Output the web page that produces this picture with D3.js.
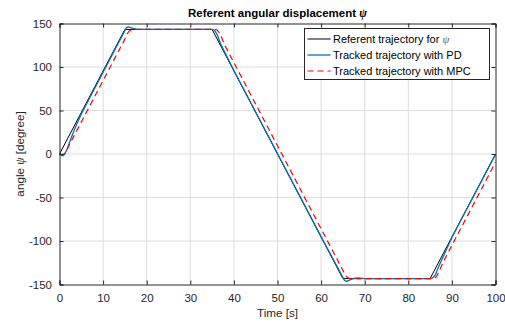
<!DOCTYPE html>
<html>
<head>
<meta charset="utf-8">
<script src="https://cdn.jsdelivr.net/npm/d3@7"></script>
<style>
  html, body { margin: 0; padding: 0; background: #fff; }
  svg { display: block; font-family: "Liberation Sans", Arial, sans-serif; }
  .grid line { stroke: #dcdcdc; stroke-width: 1; }
  .tick text { fill: #262626; font-size: 11.5px; }
</style>
</head>
<body>
<div id="chart"></div>
<script>
// reference trajectory
const refTime = [0, 15, 35, 65, 85, 100];
const refAngle = [0, 143.2, 143.2, -143.2, -143.2, 0];

// PD tracked trajectory
const pdTime = [0, 0.4, 0.8, 1.2, 1.8, 2.5, 3.5, 5, 10, 14.8, 15.3, 15.8, 16.5, 17.5, 20,
  35, 35.5, 36.2, 37, 40, 50, 60, 64.8, 65.3, 65.8, 66.5, 67.5, 68.5, 70,
  85, 85.5, 86.2, 87, 90, 100];
const pdAngle = [0, -1.5, -2, 0, 6, 16, 29, 46, 94, 140, 145, 146, 145, 143.5, 143.2,
  143.2, 142.5, 137, 126, 96, 0.5, -95, -140, -145, -146.5, -145, -143, -142.4, -143.2,
  -143.2, -142.8, -139, -129, -96, -0.5];

// MPC tracked trajectory
const mpcTime = [0, 0.5, 1, 1.5, 2, 3, 5, 10, 15, 15.6, 16, 16.5, 17,
  35, 36, 36.5, 37, 38, 50, 60, 65, 65.6, 66, 66.5, 67,
  85, 86, 86.5, 87, 88, 95, 100];
const mpcAngle = [0, -0.5, 0, 3, 8, 17.7, 36.8, 84.5, 132.2, 138.5, 141.5, 142.8, 143.2,
  143.2, 143, 140.5, 136, 124.1, 9.5, -86, -133.7, -139.5, -142, -143, -143.2,
  -143.2, -143, -140.5, -136, -124.1, -57.3, -9.5];

const xTicks = [0, 10, 20, 30, 40, 50, 60, 70, 80, 90, 100];
const yTicks = [-150, -100, -50, 0, 50, 100, 150];

const legendLabels = ["Referent trajectory for ", "Tracked trajectory with PD", "Tracked trajectory with MPC"];

const width = 505, height = 323;
const margin = { top: 23.5, right: 9.5, bottom: 38.5, left: 59.5 };
const innerW = width - margin.left - margin.right;
const innerH = height - margin.top - margin.bottom;

const svg = d3.select("#chart").append("svg")
  .attr("width", width).attr("height", height);

const x = d3.scaleLinear().domain([0, 100]).range([0, innerW]);
const y = d3.scaleLinear().domain([-150, 150]).range([innerH, 0]);

const g = svg.append("g").attr("transform", `translate(${margin.left},${margin.top})`);

// grid
const grid = g.append("g").attr("class", "grid");
grid.selectAll(".vx").data(xTicks.slice(1, -1)).join("line")
  .attr("x1", d => x(d)).attr("x2", d => x(d)).attr("y1", 0).attr("y2", innerH);
grid.selectAll(".hy").data(yTicks.slice(1, -1)).join("line")
  .attr("y1", d => y(d)).attr("y2", d => y(d)).attr("x1", 0).attr("x2", innerW);

const line = d3.line().x(d => x(d[0])).y(d => y(d[1]));

const series = [
  { t: refTime, v: refAngle, color: "#000", dash: null, w: 1 },
  { t: pdTime, v: pdAngle, color: "#0072BD", dash: null, w: 1.3 },
  { t: mpcTime, v: mpcAngle, color: "#FF0000", dash: "6,4", w: 1.2 },
];

g.selectAll(".series").data(series).join("path")
  .attr("class", "series")
  .attr("fill", "none")
  .attr("stroke", d => d.color)
  .attr("stroke-width", d => d.w)
  .attr("stroke-dasharray", d => d.dash)
  .attr("d", d => line(d.t.map((t, i) => [t, d.v[i]])));

// axes, ticks inward on all sides
const tk = 4;
const plain = d => String(d);
const axB = g.append("g").attr("transform", `translate(0,${innerH})`)
  .call(d3.axisBottom(x).tickValues(xTicks).tickSize(-tk).tickPadding(9).tickFormat(plain));
const axT = g.append("g")
  .call(d3.axisTop(x).tickValues(xTicks).tickSize(-tk).tickFormat(""));
const axL = g.append("g")
  .call(d3.axisLeft(y).tickValues(yTicks).tickSize(-tk).tickPadding(7.5).tickFormat(plain));
const axR = g.append("g").attr("transform", `translate(${innerW},0)`)
  .call(d3.axisRight(y).tickValues(yTicks).tickSize(-tk).tickFormat(""));
[axB, axT, axL, axR].forEach(a => {
  a.selectAll(".domain").attr("stroke", "#262626");
  a.selectAll(".tick line").attr("stroke", "#262626");
});

// title
const title = svg.append("text")
  .attr("x", margin.left + innerW / 2).attr("y", 17)
  .attr("text-anchor", "middle")
  .attr("font-size", 11.5).attr("font-weight", "bold").attr("fill", "#000")
  .text("Referent angular displacement ");
title.append("tspan").attr("font-family", "'Liberation Serif', serif").attr("font-style", "italic").text("ψ");

// axis labels
svg.append("text")
  .attr("x", margin.left + innerW / 2).attr("y", 317)
  .attr("text-anchor", "middle").attr("font-size", 11.7).attr("fill", "#262626")
  .text("Time [s]");
const yl = svg.append("text")
  .attr("transform", `translate(24,${margin.top + innerH / 2}) rotate(-90)`)
  .attr("text-anchor", "middle").attr("font-size", 11.7).attr("fill", "#262626")
  .text("angle ");
yl.append("tspan").attr("font-family", "'Liberation Serif', serif").attr("font-style", "italic").text("ψ");
yl.append("tspan").text(" [degree]");

// legend
const lg = svg.append("g").attr("transform", "translate(304.5,28.5)");
lg.append("rect").attr("width", 185).attr("height", 51)
  .attr("fill", "#fff").attr("stroke", "#262626").attr("stroke-width", 1);
const rows = lg.selectAll(".item").data(series).join("g")
  .attr("transform", (d, i) => `translate(0,${10.5 + i * 16})`);
rows.append("line").attr("x1", 3).attr("x2", 26)
  .attr("stroke", d => d.color).attr("stroke-width", d => d.w)
  .attr("stroke-dasharray", d => d.dash);
const lt = rows.append("text").attr("x", 28.5).attr("dy", "0.36em")
  .attr("font-size", 11).attr("fill", "#000")
  .text((d, i) => legendLabels[i]);
lt.filter((d, i) => i === 0).append("tspan")
  .attr("font-family", "'Liberation Serif', serif").attr("font-style", "italic").attr("fill", "#555").text("ψ");
</script>
</body>
</html>
